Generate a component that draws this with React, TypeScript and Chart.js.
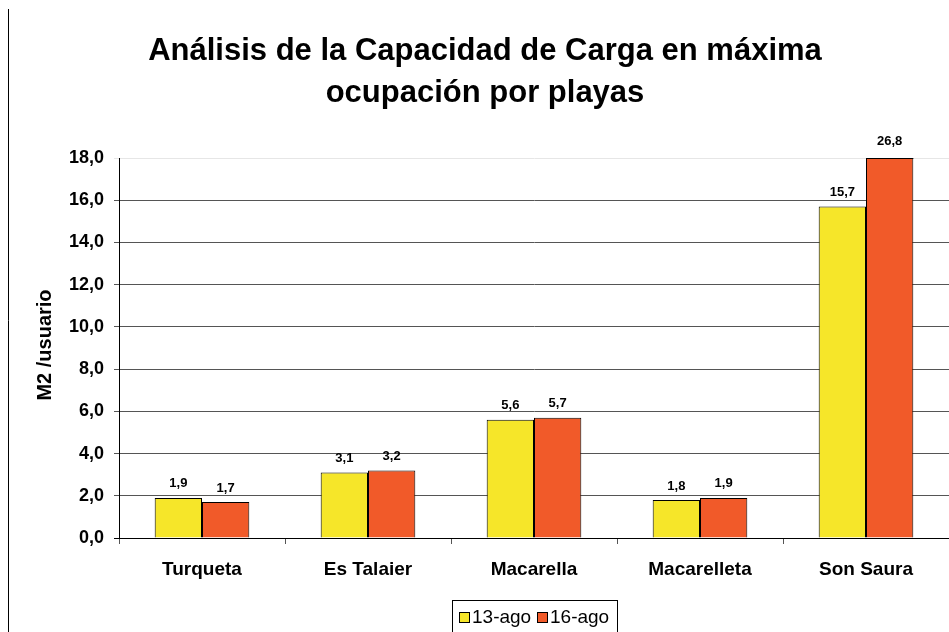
import React, { useEffect, useRef } from "react";
import { Chart, registerables } from "chart.js";

Chart.register(...registerables);

const categories = ["Turqueta", "Es Talaier", "Macarella", "Macarelleta", "Son Saura"];
const series13ago = [1.9, 3.1, 5.6, 1.8, 15.7];
const series16ago = [1.7, 3.2, 5.7, 1.9, 26.8];
const seriesNames = ["13-ago", "16-ago"];
const seriesColors = ["#F6E629", "#F15A29"];
const titleLines = ["Análisis de la Capacidad de Carga en máxima", "ocupación por playas"];
const yAxisTitle = "M2 /usuario";

const FONT = "'Liberation Sans', Arial, sans-serif";
const fmt = (v: number) => v.toFixed(1).replace(".", ",");

const decorPlugin = {
  id: "decor",
  afterDraw(chart: any) {
    const ctx = chart.ctx;
    const area = chart.chartArea;
    ctx.save();
    // left border line
    ctx.strokeStyle = "#000";
    ctx.lineWidth = 1;
    ctx.beginPath();
    ctx.moveTo(8.5, 9);
    ctx.lineTo(8.5, chart.height);
    ctx.stroke();
    // title
    ctx.fillStyle = "#000";
    ctx.font = `bold 31px ${FONT}`;
    ctx.textAlign = "center";
    ctx.textBaseline = "middle";
    titleLines.forEach((t, i) => ctx.fillText(t, 485, 51 + i * 42));
    // y axis title
    ctx.save();
    ctx.translate(45, 345);
    ctx.rotate(-Math.PI / 2);
    ctx.font = `bold 20px ${FONT}`;
    ctx.fillText(yAxisTitle, 0, 0);
    ctx.restore();
    // legend
    ctx.strokeStyle = "#000";
    ctx.strokeRect(452.5, 600.5, 165, 40);
    ctx.font = `19px ${FONT}`;
    ctx.textAlign = "left";
    const xs = [459, 537];
    seriesNames.forEach((n, i) => {
      ctx.fillStyle = seriesColors[i];
      ctx.fillRect(xs[i] + 0.5, 612.5, 10, 10);
      ctx.strokeRect(xs[i] + 0.5, 612.5, 10, 10);
      ctx.fillStyle = "#000";
      ctx.fillText(n, xs[i] + 13, 618);
    });
    // data labels and clipped bar tops
    ctx.font = `bold 13px ${FONT}`;
    ctx.textAlign = "center";
    chart.data.datasets.forEach((ds: any, di: number) => {
      const meta = chart.getDatasetMeta(di);
      meta.data.forEach((el: any, j: number) => {
        const v = ds.data[j];
        let y = el.y;
        let off = 14;
        if (y < area.top) {
          y = area.top;
          off = 17;
          ctx.beginPath();
          ctx.moveTo(el.x - el.width / 2, area.top + 0.5);
          ctx.lineTo(el.x + el.width / 2, area.top + 0.5);
          ctx.stroke();
        }
        ctx.fillStyle = "#000";
        ctx.fillText(fmt(v), el.x, y - off);
      });
    });
    ctx.restore();
  },
};

export default function App() {
  const ref = useRef<HTMLCanvasElement>(null);
  useEffect(() => {
    if (!ref.current) return;
    const chart = new Chart(ref.current, {
      type: "bar",
      data: {
        labels: categories,
        datasets: [
          { label: seriesNames[0], data: series13ago, backgroundColor: seriesColors[0], borderColor: "#000", borderWidth: 1 },
          { label: seriesNames[1], data: series16ago, backgroundColor: seriesColors[1], borderColor: "#000", borderWidth: 1 },
        ],
      },
      options: {
        responsive: false,
        animation: false,
        layout: { padding: { top: 158, left: 0, right: 0, bottom: 0 } },
        datasets: { bar: { barPercentage: 1, categoryPercentage: 0.57 } },
        plugins: { legend: { display: false }, title: { display: false }, tooltip: { enabled: false } },
        scales: {
          x: {
            afterFit: (s: any) => { s.height = 94; },
            border: { color: "#000" },
            grid: { offset: true, drawOnChartArea: false, tickLength: 6, color: "#555" },
            ticks: { color: "#000", padding: 14, font: { family: FONT, size: 19, weight: "bold" } },
          },
          y: {
            min: 0,
            max: 18,
            afterFit: (s: any) => { s.width = 119; },
            border: { color: "#000" },
            grid: {
              tickLength: 5,
              color: (c: any) => (c.tick && c.tick.value === 18 ? "#e6e6e6" : c.tick && c.tick.value === 0 ? "#000" : "#555"),
            },
            ticks: {
              stepSize: 2,
              color: "#000",
              padding: 10,
              font: { family: FONT, size: 18, weight: "bold" },
              callback: (v: any) => fmt(Number(v)),
            },
          },
        },
      },
      plugins: [decorPlugin],
    });
    return () => chart.destroy();
  }, []);
  return (
    <div style={{ position: "fixed", left: 0, top: 0, width: 949, height: 632, background: "#fff" }}>
      <canvas ref={ref} width={949} height={632} style={{ display: "block" }} />
    </div>
  );
}
